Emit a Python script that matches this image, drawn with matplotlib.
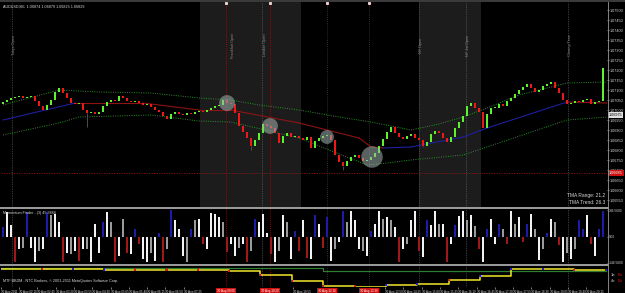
import matplotlib
matplotlib.use("Agg")
import matplotlib.pyplot as plt
import matplotlib.transforms as mtransforms
from matplotlib.lines import Line2D
from matplotlib.patches import Rectangle
import numpy as np

W, H = 625, 293
BASE, PIP = 1.0650, 0.0001

# M5 closes, pips above BASE (open of each bar = previous close)
first_open = 53.0
close_pips = [54, 55, 56, 56.5, 57, 56, 56.5, 57, 54.5, 52, 50, 52.5, 55, 59, 61, 58.5, 56, 53.5, 53, 53.5,
              50, 48.5, 49, 48, 49, 52, 54, 55, 54.5, 57, 56, 54.5, 54, 54.5, 53.5, 52.5, 53, 51.5, 50, 49,
              47, 45.5, 48, 49, 48, 47.5, 48.5, 48, 49, 49.5, 49, 50, 51, 52, 52.5, 55, 53.5, 53, 48.5, 42,
              39, 36, 32, 35, 38.5, 43, 42, 41, 38.5, 33.5, 37, 38.5, 36.5, 37, 36, 35, 36.5, 31, 34.5, 36,
              37, 37.5, 35, 27.5, 24, 22, 24.5, 26.5, 27.5, 26, 24.5, 25, 26.5, 28.5, 32, 35.5, 39, 41.5, 38.5, 36.5,
              35.5, 37, 38, 36, 35, 32, 34, 38, 39.5, 38.5, 36, 34, 36.5, 41, 44, 47, 52, 53.5, 51, 49,
              41, 48, 51, 51, 53, 52, 54.5, 56, 58, 60, 61.5, 63, 61, 59, 60, 62, 63, 64, 61, 58.5,
              55, 53, 53.5, 54.5, 54, 55, 55.5, 53, 54, 54.5, 71]
wick_bars = [21, 62, 85, 105]
wick_lows = [41.5, 30, 20, 31.5]

# TMA bands (bar, pips)
upper_bars = [0, 14, 24, 37, 49, 57, 64, 74, 84, 92, 102, 109, 115, 121, 129, 141, 151]
upper_pips = [52.5, 60, 59, 58.5, 56, 55, 52.5, 50, 46.5, 44, 40, 43, 46.5, 51, 57.5, 63.5, 64]
lower_bars = [0, 14, 19, 37, 49, 57, 74, 91, 96, 102, 115, 121, 141, 151]
lower_pips = [37.5, 43.5, 46.5, 47.5, 44.5, 44, 36, 22.5, 23.5, 25, 27.5, 31.5, 45, 46.5]
center_bars = [0, 18, 35, 49, 57, 74, 89, 92, 95, 102, 115, 121, 141, 151]
center_pips = [45, 53.5, 53.5, 50, 50, 43.5, 36, 31.5, 31, 31.5, 36.5, 41, 54, 53.5]

# highlighted touches
touch_bars = [56, 66.75, 81, 92.25]
touch_pips = [53.5, 42, 36.5, 26.5]
touch_size = [130, 130, 100, 240]

support_pips = 18.5
marker_pips = 47.5

# sessions
session_spans = [(49.25, 74.5), (104, 119.5)]
gray_lines = [2.25, 64.75, 104, 115.75, 141.25]
red_lines = [55.75, 66.75, 81, 91.5]
red_times = ["30 Aug 09:00", "30 Aug 10:20", "30 Aug 12:10", "30 Aug 13:30"]
session_labels = [(2.75, "Tokyo Open"), (57.5, "Frankfurt Open"), (65.5, "London Open"),
                  (104.5, "NY Open"), (116.25, "NY 1st Open"), (141.75, "Closing Time")]

# oscillator
osc_vals = [55, 138, 66, -143, -72, -66, 138, -66, -143, -83, -72, 138, 121, 127, 83, -143, -94, -99, -83, -138,
            -72, -72, -143, 72, -94, 83, 138, 83, -143, -110, 99, -94, -99, 39, -44, -127, -143, -94, -138, 17,
            -143, -72, 146, 94, 44, -110, -143, 39, 94, 99, -39, -72, 132, 127, 110, 83, -88, -44, -110, -66,
            -44, -143, -83, 99, 83, 127, 17, -99, -143, -83, 121, 83, -127, 28, -83, 94, -121, -127, 121, 72,
            -66, 110, -138, -72, -28, 143, 83, 143, 94, -72, -83, -110, 28, 72, 143, 99, 110, 94, 55, -143,
            -72, -44, 94, 143, -83, -116, 94, 66, 143, 72, 72, -143, -39, 66, 116, 143, 94, 121, 61, -72,
            -143, 39, 99, -39, 72, 44, -44, 143, 72, 110, -28, 72, 127, 39, -132, -72, 17, 99, 83, -50,
            -143, -94, -127, -72, 94, 39, 121, -44, -110, 44, 143]
osc_state = ("bwwrwgbwwgwbgwwrwgwr" "wgwwwbwgrwgrwbrwwgwb" "rgbwwwgbgwrwwwwgrwwg"
             "wrgbwwwrwgwgwbrwrwbw" "rbwgwbgwwwgwbwwgwgwr" "wgwwrwbwwgwrwbwwgwgr"
             "wbwwbgrwgwrbwgwgbwgr" "wgwgbbwrwbb")
osc_max = 146.56

# multi-timeframe step panel
mtf_bars = [-0.5, 9.75, 17.5, 25.25, 33, 40.9, 48.75, 56.5, 64.25, 72.25, 80, 88, 95.75,
            103.5, 111.5, 119.25, 127, 135, 142.75, 150.75]
mtf_level = [18, 18, 18, 17.5, 17.5, 17.5, 17.5, 16, 12, 6, 1, 0.5, 2, 3, 7, 11, 18, 18, 17, 17]
mtf_dir = "rbbrrrrrrrrbbrbbbrb"
slow_bars = [-0.5, 80, 151]
slow_level = [19, 16, 16]

# time axis (one label every 7 bars of the original chart)
time_bars = [-0.5, 4, 8.6, 13.2, 17.7, 22.3, 26.9, 31.5, 36, 40.6, 45.2, 49.8, 54.3, 58.9, 63.5,
             68.1, 72.6, 77.2, 81.8, 86.4, 90.9, 95.5, 100.1, 104.7, 109.2, 113.8, 118.4, 123,
             127.5, 132.1, 136.7, 141.3, 145.8]
time_text = ["30 Aug 2011", "30 Aug 02:10", "30 Aug 02:45", "30 Aug 03:20", "30 Aug 03:55",
             "30 Aug 04:30", "30 Aug 05:05", "30 Aug 05:40", "30 Aug 06:15", "30 Aug 06:50",
             "30 Aug 07:25", "30 Aug 08:00", "30 Aug 08:35", "30 Aug 09:10", "30 Aug 09:45",
             "30 Aug 10:20", "30 Aug 10:55", "30 Aug 11:30", "30 Aug 12:05", "30 Aug 12:40",
             "30 Aug 13:15", "30 Aug 13:50", "30 Aug 14:25", "30 Aug 15:00", "30 Aug 15:35",
             "30 Aug 16:10", "30 Aug 16:45", "30 Aug 17:20", "30 Aug 17:55", "30 Aug 18:30",
             "30 Aug 19:05", "30 Aug 19:40", "30 Aug 20:15"]

BULL, BEAR = "#5df22c", "#f01818"
OSC_COL = {"w": "#f2f2f2", "g": "#9a9a9a", "b": "#1c1ca8", "r": "#a01818"}
TXT = "#d8d8d8"
FS = 2.7
plt.rcParams["font.family"] = ["Liberation Sans Narrow", "Liberation Sans", "DejaVu Sans"]

fig = plt.figure(figsize=(W / 100, H / 100), dpi=100, facecolor="black")


def panel(x0, y0, x1, y1):
    a = fig.add_axes([x0 / W, 1 - y1 / H, (x1 - x0) / W, (y1 - y0) / H])
    a.set_facecolor("black")
    for s in a.spines.values():
        s.set_visible(False)
    a.set_xlim(-0.5, 151)
    a.set_xticks([])
    a.yaxis.tick_right()
    a.tick_params(axis="y", length=1.2, width=0.4, labelsize=FS, colors=TXT, pad=0.6)
    return a


ax = panel(1, 2, 607, 207)
osc = panel(1, 209, 607, 264)
mtf = panel(1, 266, 607, 287)

# frame lines
fig.add_artist(Rectangle((0, 1 - 2 / H), 1, 2 / H, transform=fig.transFigure, color="#3a3a3a", lw=0))
for yy in (207.5, 265):
    fig.add_artist(Line2D([0, 607.5 / W], [1 - yy / H] * 2, color="#c8c8c8", lw=1.1))
fig.add_artist(Line2D([607.5 / W] * 2, [0, 1 - 2 / H], color="#9a9a9a", lw=0.6))

# ---- main price panel
for a0, a1 in session_spans:
    ax.axvspan(a0, a1, color="#1c1c1c", lw=0, zorder=0)
for a in (ax, osc, mtf):
    for v in gray_lines:
        a.axvline(v, color="#707070", ls=(0, (1, 1.5)), lw=0.5, zorder=1)
    for v in red_lines:
        a.axvline(v, color="#8b1a1a", ls=(0, (1, 1.5)), lw=0.6, zorder=1)
for v in red_lines:
    ax.plot(v, 0.997, "s", ms=1.2, color="#f0d0d0", transform=ax.get_xaxis_transform(), clip_on=False)
for v, lab in session_labels:
    ax.text(v, 0.79, lab, rotation=90, ha="center", va="center", fontsize=FS, color="#8a8a8a",
            transform=ax.get_xaxis_transform())

ax.axhline(BASE + support_pips * PIP, color="#8b1a1a", ls=(0, (1.5, 1.5)), lw=0.6)

c = BASE + np.array(close_pips) * PIP
o = np.r_[BASE + first_open * PIP, c[:-1]]
x = np.arange(len(c))
lo = np.minimum(o, c)
ax.bar(x, np.maximum(np.abs(c - o), 0.3 * PIP), bottom=lo, width=0.62,
       color=np.where(c >= o, BULL, BEAR), lw=0, zorder=3)
for b, w in zip(wick_bars, wick_lows):
    ax.vlines(b, BASE + w * PIP, lo[b], color=BEAR if c[b] < o[b] else BULL, lw=0.6, zorder=3)

band = dict(ls=(0, (1, 1.4)), lw=0.7, color="#2f8f2f", zorder=2)
ax.plot(upper_bars, BASE + np.array(upper_pips) * PIP, **band)
ax.plot(lower_bars, BASE + np.array(lower_pips) * PIP, **band)
for i in range(len(center_bars) - 1):
    rising = center_pips[i + 1] > center_pips[i]
    ax.plot(center_bars[i:i + 2], BASE + np.array(center_pips[i:i + 2]) * PIP,
            color="#1f1fa0" if rising else "#8c1414", lw=0.8, zorder=2)

ax.scatter(touch_bars, BASE + np.array(touch_pips) * PIP, s=touch_size, color="#9fb2b0",
           alpha=0.55, lw=0, zorder=5)

ax.set_ylim(BASE + 1.5 * PIP, BASE + 104 * PIP)
ticks = BASE + np.arange(5, 101, 5) * PIP
ax.set_yticks(ticks, ["%.5f" % t for t in ticks])
tr = mtransforms.blended_transform_factory(ax.transAxes, ax.transData)
ax.text(1.003, BASE + support_pips * PIP, "%.5f" % (BASE + support_pips * PIP), transform=tr,
        fontsize=FS, color="white", va="center", ha="left",
        bbox=dict(boxstyle="square,pad=0.25", fc="#d01010", ec="none"))
ax.text(1.003, BASE + marker_pips * PIP, "%.5f" % (BASE + marker_pips * PIP), transform=tr,
        fontsize=FS, color="black", va="center", ha="left",
        bbox=dict(boxstyle="square,pad=0.25", fc="#e0e0e0", ec="none"))

ax.text(0.004, 0.988, "AUDUSD,M5  1.06874 1.06879 1.06825 1.06829", transform=ax.transAxes,
        fontsize=FS, color=TXT, va="top")
ax.text(0.997, 0.054, "TMA Range: 21.2", transform=ax.transAxes, fontsize=FS + 0.8, color=TXT,
        ha="right", va="center")
ax.text(0.997, 0.024, "TMA Trend: 26.3", transform=ax.transAxes, fontsize=FS + 0.8, color=TXT,
        ha="right", va="center")

# ---- oscillator
osc.bar(x, osc_vals, width=0.45, color=[OSC_COL[s] for s in osc_state], lw=0, zorder=3)
osc.set_ylim(-153, 153)
osc.set_yticks([osc_max, 0, -osc_max], ["%.4f" % osc_max, "0.00", "-%.4f" % osc_max])
osc.tick_params(axis="y", labelsize=FS - 0.4, pad=0.4, length=1)
osc.text(0.004, 0.97, "Momentum Finder - (3) 45.3866", transform=osc.transAxes, fontsize=FS,
         color=TXT, va="top")

# ---- MTF step panel
mtf.set_ylim(0, 21)
mtf.set_yticks([])
mtf.step(slow_bars, slow_level, where="post", color="#2e7d32", lw=0.9, zorder=2)
mtf.step(mtf_bars, mtf_level, where="post", color="#f2e82a", lw=1.1, zorder=3)
mtf.scatter(mtf_bars[1:], mtf_level[1:], marker="s", s=3,
            color=["#c02020" if d == "r" else "#2020c0" for d in mtf_dir], lw=0, zorder=4)
mtf.text(0.004, 0.3, "MTF BBDM - NTC Brokers, \u00a9 2001-2011 MetaQuotes Software Corp.",
         transform=mtf.transAxes, fontsize=FS, color=TXT, va="center")
mtf.text(1.006, 0.55, "1h:", transform=mtf.transAxes, fontsize=FS, color=TXT, va="center")
mtf.text(1.018, 0.55, "Dn", transform=mtf.transAxes, fontsize=FS, color="#e02020", va="center")
mtf.text(1.006, 0.3, "4h:", transform=mtf.transAxes, fontsize=FS, color=TXT, va="center")
mtf.text(1.018, 0.3, "Dn", transform=mtf.transAxes, fontsize=FS, color="#e02020", va="center")

# regular time labels, except where a red event label sits on top
keep = [i for i, b in enumerate(time_bars)
        if all(not (r - 8 < b < r + 3.2) for r in red_lines)]
mtf.set_xticks([time_bars[i] for i in keep], [time_text[i] for i in keep])
mtf.tick_params(axis="x", length=1.2, width=0.4, labelsize=2.2, colors=TXT, pad=0.8)
for t in mtf.get_xticklabels():
    t.set_ha("left")
for v, lab in zip(red_lines, red_times):
    mtf.text(v, -0.1, lab, transform=mtf.get_xaxis_transform(),
             fontsize=2.2, color="white", ha="center", va="top",
             bbox=dict(boxstyle="square,pad=0.3", fc="#d01010", ec="none"))

fig.savefig("out.png", dpi=100, facecolor="black")
